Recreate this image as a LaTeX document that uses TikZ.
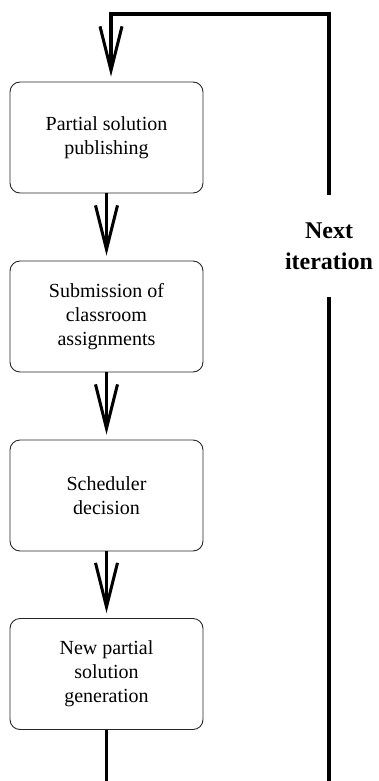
\documentclass[tikz,border=0pt]{standalone}
\usepackage{fontspec}
\setmainfont{Liberation Serif}
\usetikzlibrary{arrows.meta}
\begin{document}
\begin{tikzpicture}[x=1pt,y=-1pt,
  stepbox/.style={draw=black!85, line width=0.9pt, rounded corners=10pt,
    minimum width=193pt, minimum height=111pt, inner sep=0pt,
    align=center, font=\fontsize{20}{24}\selectfont},
  flow/.style={line width=3.2pt, line join=miter},
  arr/.style={flow, -{Straight Barb[length=44pt, width=22pt, line width=3pt]}, shorten >=5pt},
  lbl/.style={minimum height=102pt, inner sep=0pt, align=center,
    font=\fontsize{24}{31}\selectfont\bfseries}]
\useasboundingbox (0,0) rectangle (378,781);
\node[stepbox] (b1) at (106.5,137.5) {Partial solution\\publishing};
\node[stepbox] (b2) at (106.5,316.5) {Submission of\\classroom\\assignments};
\node[stepbox] (b3) at (106.5,495.5) {Scheduler\\decision};
\node[stepbox] (b4) at (106.5,674) {New partial\\solution\\generation};
\node[lbl] (it) at (329,246) {Next\\iteration};
\coordinate (tl) at (111,14);
\coordinate (tr) at (329,14);
\coordinate (br) at (329,782);
\coordinate (bl) at (106.5,782);
\draw[arr] (b1) -- (b2);
\draw[arr] (b2) -- (b3);
\draw[arr] (b3) -- (b4);
\draw[flow] (b4) -- (bl);
\draw[flow] (br) -- (it.south);
\draw[arr] (it.north) -- (tr) -- (tl) -- (tl |- b1.north);
\end{tikzpicture}
\end{document}
